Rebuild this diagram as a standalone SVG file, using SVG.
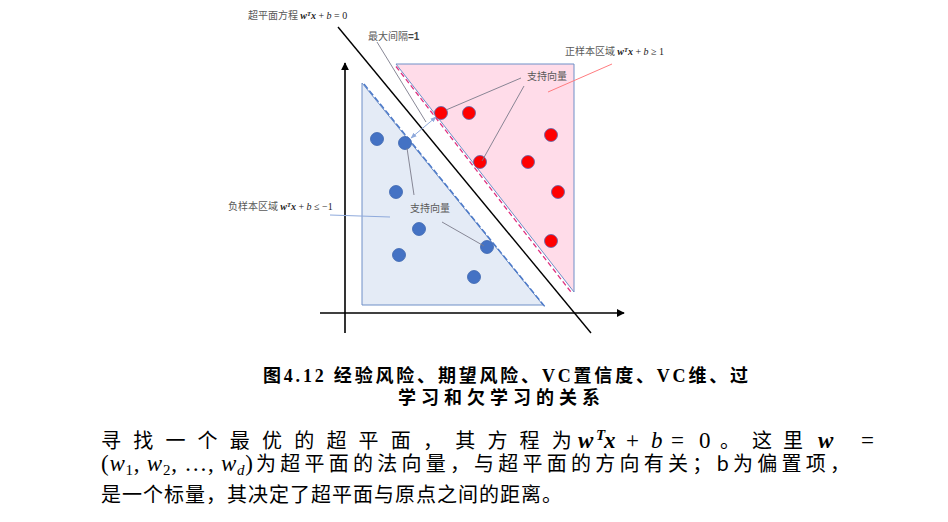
<svg xmlns="http://www.w3.org/2000/svg" width="948" height="522" viewBox="0 0 948 522">
<defs>
<style>
.lbl{font-family:"Noto Sans CJK SC","Liberation Serif",serif;font-size:10px;fill:#595959}
.m{font-family:"Liberation Serif","DejaVu Serif",serif;font-style:italic}
.mb{font-family:"Liberation Serif","DejaVu Serif",serif;font-style:italic;font-weight:bold}
.mr{font-family:"Liberation Serif","DejaVu Serif",serif}
.cap{font-family:"Liberation Serif","Noto Sans CJK SC",serif;font-size:18px;font-weight:bold;fill:#000}
.body{font-family:"Noto Sans CJK SC",sans-serif;font-size:20px;fill:#000}
.bm{font-family:"Liberation Serif","DejaVu Serif",serif;font-size:23px;fill:#000}
.lead{stroke:#7a7a8a;stroke-width:0.9;fill:none}
.rp{fill:#ff0000;stroke:#5a68b0;stroke-width:0.8}
.bp{fill:#4472c4;stroke:#3b64ae;stroke-width:0.8}
</style>
<marker id="ah" viewBox="0 0 10 10" refX="9" refY="5" markerWidth="8" markerHeight="8" orient="auto-start-reverse" markerUnits="userSpaceOnUse"><path d="M0,0 L10,5 L0,10 z" fill="#000"/></marker>
<marker id="lb" viewBox="0 0 10 10" refX="9" refY="5" markerWidth="6" markerHeight="6" orient="auto-start-reverse" markerUnits="userSpaceOnUse"><path d="M0,1 L10,5 L0,9 z" fill="#8faadc"/></marker>
</defs>

<g id="neg-region">
<polygon points="362,83 362,305 543,305" fill="#e4ebf6" stroke="#6f8fc7" stroke-width="1"/>
<line x1="364" y1="84" x2="546" y2="308" stroke="#4a78c8" stroke-width="1.4" stroke-dasharray="6,2.5"/>
</g>
<g id="pos-region">
<polygon points="396,64 574,64 574,292" fill="#ffdce9" stroke="#6f8fc7" stroke-width="1"/>
<line x1="396" y1="66.5" x2="572.5" y2="294" stroke="#e0307f" stroke-width="1.3" stroke-dasharray="5,3"/>
</g>

<g id="axes">
<line x1="345" y1="333" x2="345" y2="63" stroke="#000" stroke-width="1.6" marker-end="url(#ah)"/>
<line x1="320" y1="313" x2="624" y2="313" stroke="#000" stroke-width="1.6" marker-end="url(#ah)"/>
</g>
<g id="hyperplane">
<line x1="338" y1="27" x2="591" y2="333" stroke="#000" stroke-width="1.4"/>
</g>

<g id="pos-points">
<circle class="rp" cx="441" cy="113" r="6.5"/>
<circle class="rp" cx="469" cy="113" r="6.5"/>
<circle class="rp" cx="551" cy="135" r="6.5"/>
<circle class="rp" cx="480" cy="162" r="6.5"/>
<circle class="rp" cx="528" cy="162" r="6.5"/>
<circle class="rp" cx="558" cy="192" r="6.5"/>
<circle class="rp" cx="551" cy="241" r="6.5"/>
</g>
<g id="neg-points">
<circle class="bp" cx="377" cy="139" r="6.5"/>
<circle class="bp" cx="405" cy="143" r="6.5"/>
<circle class="bp" cx="396" cy="192" r="6.5"/>
<circle class="bp" cx="419" cy="229" r="6.5"/>
<circle class="bp" cx="399" cy="255" r="6.5"/>
<circle class="bp" cx="487" cy="247" r="6.5"/>
<circle class="bp" cx="474" cy="277" r="6.5"/>
</g>

<g id="connectors">
<line x1="411" y1="138" x2="436" y2="117" stroke="#8faadc" stroke-width="1" marker-start="url(#lb)" marker-end="url(#lb)"/>
<line class="lead" x1="377" y1="42" x2="426" y2="122" stroke="#a0a0a0"/>
<line class="lead" x1="521" y1="78" x2="446" y2="110"/>
<line class="lead" x1="524" y1="86" x2="482" y2="161"/>
<line x1="612" y1="64" x2="548" y2="92" stroke="#ff7c80" stroke-width="1"/>
<line x1="330" y1="215" x2="390" y2="217" stroke="#8faadc" stroke-width="1"/>
<line class="lead" x1="442" y1="222" x2="484" y2="246"/>
<line class="lead" x1="407" y1="148" x2="414" y2="195"/>
</g>

<g id="label-hyperplane">
<text class="lbl" x="248" y="19">超平面方程 <tspan class="mb" fill="#222">w</tspan><tspan class="mb" font-size="6.5" dy="-3.5" fill="#222">T</tspan><tspan class="mb" dy="3.5" fill="#222">x</tspan><tspan class="mr" fill="#222"> + </tspan><tspan class="m" fill="#222">b</tspan><tspan class="mr" fill="#222"> = 0</tspan></text>
</g>
<g id="label-margin">
<text class="lbl" x="368" y="40">最大间隔<tspan font-family="Liberation Sans,sans-serif" font-weight="bold" fill="#444">=1</tspan></text>
</g>
<g id="label-pos">
<text class="lbl" x="565" y="55">正样本区域  <tspan class="mb" fill="#222">w</tspan><tspan class="mb" font-size="6.5" dy="-3.5" fill="#222">T</tspan><tspan class="mb" dy="3.5" fill="#222">x</tspan><tspan class="mr" fill="#222"> + </tspan><tspan class="m" fill="#222">b</tspan><tspan class="mr" fill="#222"> ≥ 1</tspan></text>
</g>
<g id="label-neg">
<text class="lbl" x="228" y="210">负样本区域 <tspan class="mb" fill="#222">w</tspan><tspan class="mb" font-size="6.5" dy="-3.5" fill="#222">T</tspan><tspan class="mb" dy="3.5" fill="#222">x</tspan><tspan class="mr" fill="#222"> + </tspan><tspan class="m" fill="#222">b</tspan><tspan class="mr" fill="#222"> ≤ −1</tspan></text>
</g>
<g id="label-sv-top">
<text class="lbl" x="527" y="80">支持向量</text>
</g>
<g id="label-sv-bottom">
<text class="lbl" x="410" y="212">支持向量</text>
</g>

<g id="caption">
<text class="cap" x="263" y="382" textLength="485" lengthAdjust="spacing">图4.12 经验风险、期望风险、VC置信度、VC维、过</text>
<text class="cap" x="398" y="404" textLength="202" lengthAdjust="spacing">学习和欠学习的关系</text>
</g>

<g id="body">
<text class="body" x="101 133.2 165.4 197.6 229.8 262 294.2 326.4 358.6 390.8 423 455.2 487.4 519.6 551.8" y="448">寻找一个最优的超平面，其方程为</text>
<text class="bm" y="448"><tspan x="578" font-weight="bold" font-style="italic">w</tspan><tspan x="596" font-weight="bold" font-style="italic" font-size="15" dy="-8">T</tspan><tspan x="604" font-weight="bold" font-style="italic" dy="8">x</tspan><tspan x="626">+</tspan><tspan x="651" font-style="italic">b</tspan><tspan x="671">=</tspan><tspan x="699">0</tspan></text>
<text class="body" x="720" y="448">。</text>
<text class="body" x="752 783" y="448">这里</text>
<text class="bm" y="448"><tspan x="818" font-weight="bold" font-style="italic">w</tspan><tspan x="861">=</tspan></text>
<text class="bm" x="101" y="471" textLength="152" lengthAdjust="spacing">(<tspan font-style="italic">w</tspan><tspan font-size="15" dy="4">1</tspan><tspan dy="-4">, </tspan><tspan font-style="italic">w</tspan><tspan font-size="15" dy="4">2</tspan><tspan dy="-4">, …, </tspan><tspan font-style="italic">w</tspan><tspan font-size="15" font-style="italic" dy="4">d</tspan><tspan dy="-4">)</tspan></text>
<text class="body" x="256" y="471" textLength="594" lengthAdjust="spacing">为超平面的法向量，与超平面的方向有关；b为偏置项，</text>
<text class="body" x="101" y="502" textLength="461" lengthAdjust="spacing">是一个标量，其决定了超平面与原点之间的距离。</text>
</g>
</svg>
